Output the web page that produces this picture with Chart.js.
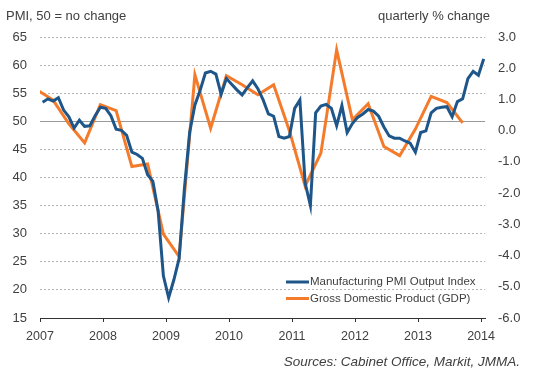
<!DOCTYPE html>
<html>
<head>
<meta charset="utf-8">
<script src="https://cdn.jsdelivr.net/npm/chart.js@4.4.1/dist/chart.umd.min.js"></script>
<style>
  body { margin: 0; background: #fff; }
  canvas { display: block; }
</style>
</head>
<body>
<canvas id="myChart" width="540" height="377"></canvas>
<script>
// data
const years = [2007, 2008, 2009, 2010, 2011, 2012, 2013, 2014];

// Manufacturing PMI Output Index, monthly, Jan 2007 .. Jan 2014
const pmiOutput = [
  53.4, 54.0, 53.6, 54.2, 52.0, 50.8, 48.8, 50.2, 49.1, 49.2, 51.0, 52.5, // 2007
  52.3, 51.0, 48.6, 48.4, 47.5, 44.5, 44.1, 43.4, 40.5, 39.3, 34.0, 22.5, // 2008
  18.6, 21.8, 25.6, 38.0, 48.0, 52.9, 55.5, 58.6, 58.9, 58.4, 54.8, 57.6, // 2009
  56.6, 55.6, 54.7, 56.0, 57.2, 55.8, 53.8, 51.3, 50.9, 47.3, 47.0, 47.3, // 2010
  52.3, 53.8, 39.0, 35.0, 51.5, 52.7, 53.0, 52.3, 49.2, 52.8, 48.0, 49.6, // 2011
  50.7, 51.3, 52.1, 51.8, 50.9, 49.0, 47.4, 47.0, 47.0, 46.5, 46.1, 44.5, // 2012
  48.0, 48.3, 51.5, 52.3, 52.5, 52.6, 50.8, 53.5, 54.0, 57.6, 58.9, 58.2, // 2013
  61.1                                                                    // 2014
];

// Gross Domestic Product, quarterly % change, Q4 2006 .. Q3 2013
const gdpChange = [
  1.30,
  0.98, 0.22, -0.39, 0.83,
  0.64, -1.15, -1.07, -3.31,
  -4.03, 1.79, 0.08, 1.76,
  1.47, 1.15, 1.47, 0.00,
  -1.77, -0.72, 2.59, 0.35,
  0.86, -0.51, -0.80, 0.05,
  1.10, 0.90, 0.25
];

const pmiTicks = [15, 20, 25, 30, 35, 40, 45, 50, 55, 60, 65];
const gdpTicks = [-6, -5, -4, -3, -2, -1, 0, 1, 2, 3];

// monthly points sit in the middle of their month, GDP on the quarter's last month
const pmiPoints = pmiOutput.map((v, i) => ({ x: years[0] + (i + 0.5) / 12, y: v }));
const gdpPoints = gdpChange.map((v, j) => ({ x: years[0] + (3 * j - 1 + 0.5) / 12, y: v }));

const FONT = "'Liberation Sans', Arial, sans-serif";
Chart.defaults.font.family = FONT;
Chart.defaults.color = '#404040';

// titles, source line and the legend inside the plot
const textPlugin = {
  id: 'texts',
  afterDraw(chart) {
    const c = chart.ctx;
    c.save();
    c.fillStyle = '#404040';
    c.textBaseline = 'middle';
    c.font = '13px ' + FONT;
    c.textAlign = 'left';
    c.fillText('PMI, 50 = no change', 6, 16);
    c.textAlign = 'right';
    c.fillText('quarterly % change', 490, 16);
    c.font = 'italic 13.5px ' + FONT;
    c.fillText('Sources: Cabinet Office, Markit, JMMA.', 520, 362);

    c.font = '11.5px ' + FONT;
    c.textAlign = 'left';
    chart.data.datasets.forEach((ds, k) => {
      const y = 282 + k * 16.5;
      c.strokeStyle = ds.borderColor;
      c.lineWidth = 3;
      c.beginPath();
      c.moveTo(286, y);
      c.lineTo(309, y);
      c.stroke();
      c.fillText(ds.label, 310, y);
    });
    c.restore();
  }
};

const ctx = document.getElementById('myChart').getContext('2d');
const myChart = new Chart(ctx, {
  type: 'line',
  data: {
    datasets: [{
      label: 'Manufacturing PMI Output Index',
      data: pmiPoints,
      yAxisID: 'y',
      borderColor: '#1f5689',
      borderWidth: 3,
      pointRadius: 0,
      tension: 0,
    }, {
      label: 'Gross Domestic Product (GDP)',
      data: gdpPoints,
      yAxisID: 'y2',
      borderColor: '#f47b2b',
      borderWidth: 3,
      pointRadius: 0,
      tension: 0,
    }]
  },
  options: {
    responsive: false,
    animation: false,
    events: [],
    layout: { padding: { top: 37, left: 0, right: 0, bottom: 0 } },
    plugins: {
      legend: { display: false },
      tooltip: { enabled: false },
    },
    scales: {
      x: {
        type: 'linear',
        min: 2007,
        max: 2014.063,
        afterBuildTicks: s => { s.ticks = years.map(v => ({ value: v })); },
        afterFit: s => { s.height = 59; s.paddingLeft = 0; s.paddingRight = 0; },
        grid: { display: true, drawOnChartArea: false, drawTicks: true, tickLength: 4, color: '#333' },
        border: { display: true, color: '#333', width: 1 },
        ticks: { padding: 7, maxRotation: 0, font: { size: 12.5 }, callback: v => String(v) },
      },
      y: {
        position: 'left',
        min: 15,
        max: 65,
        afterBuildTicks: s => { s.ticks = pmiTicks.map(v => ({ value: v })); },
        afterFit: s => { s.width = 40; s.paddingTop = 0; s.paddingBottom = 0; },
        grid: {
          drawTicks: false,
          tickLength: 0,
          lineWidth: 1,
          color: c => c.tick.value === 50 ? '#999' : (c.tick.value === 15 ? 'rgba(0,0,0,0)' : '#b4b4b4'),
        },
        border: { display: false, dash: c => c.tick && c.tick.value === 50 ? [] : [2, 2] },
        ticks: { padding: 13, font: { size: 13 } },
      },
      y2: {
        position: 'right',
        min: -6,
        max: 3,
        afterBuildTicks: s => { s.ticks = gdpTicks.map(v => ({ value: v })); },
        afterFit: s => { s.width = 55; s.paddingTop = 0; s.paddingBottom = 0; },
        grid: { display: false, drawTicks: false, tickLength: 0 },
        border: { display: false },
        ticks: { padding: 13, font: { size: 13 }, callback: v => v.toFixed(1) },
      }
    }
  },
  plugins: [textPlugin]
});
</script>
</body>
</html>
